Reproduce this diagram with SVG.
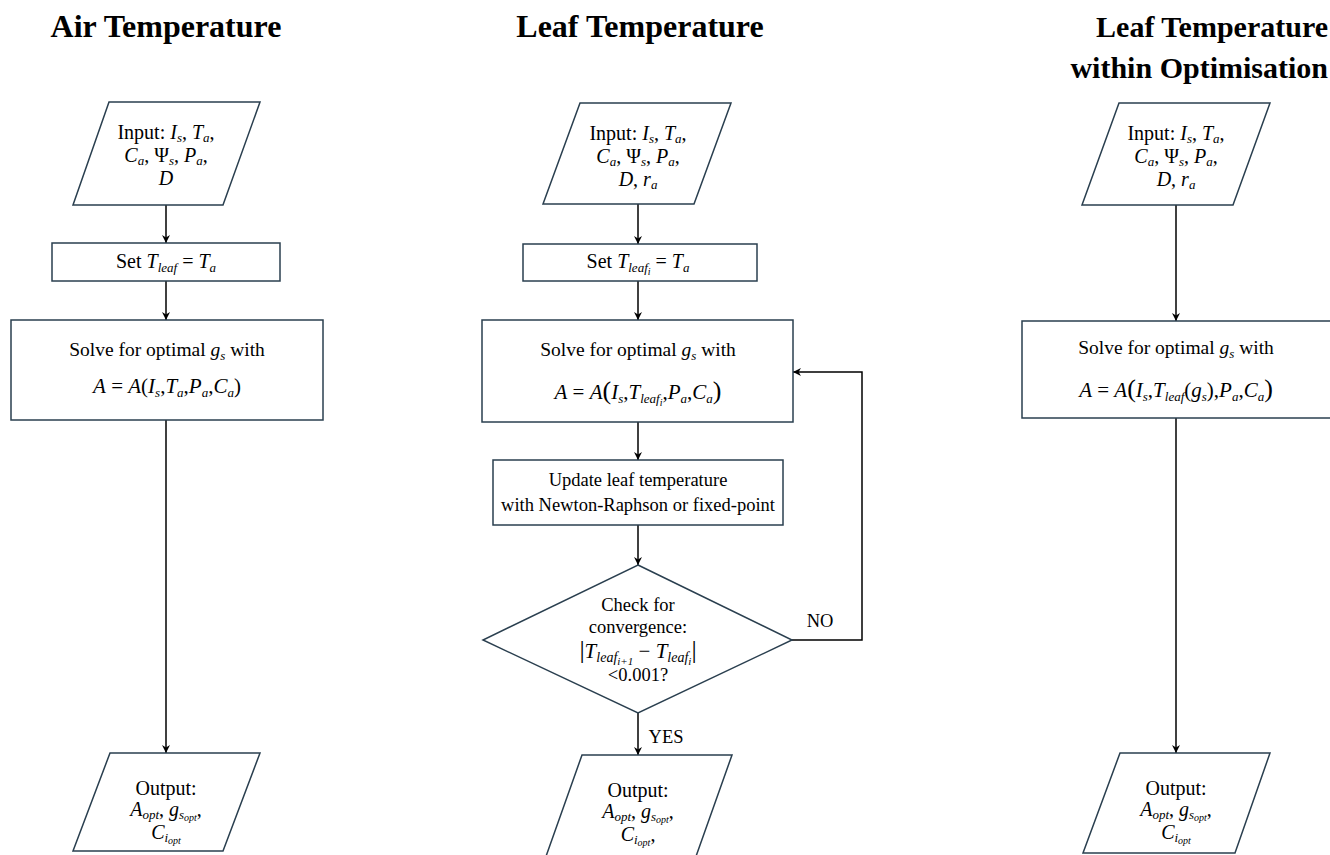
<svg xmlns="http://www.w3.org/2000/svg" width="1330" height="855" viewBox="0 0 1330 855">
<style>
text{font-family:"Liberation Serif","Times New Roman",serif;fill:#000;text-anchor:middle}
.title{font-size:32px;font-weight:bold}
.title3{font-size:30px;font-weight:bold;text-anchor:end}
.t20{font-size:20px}
.t19{font-size:19.5px}
.t21{font-size:21px}
.t18{font-size:18.5px}
.m{font-style:italic}
.s{font-size:13px;font-style:italic}
.ss{font-size:10px;font-style:italic}
.box{fill:#fff;stroke:#2a3f4f;stroke-width:1.5}
.conn{fill:none;stroke:#000;stroke-width:1.5}
.big{font-size:26px;font-style:normal}
.mx{font-size:21px}
.mxs{font-size:14px;font-style:italic}
.mxss{font-size:11px;font-style:italic}
</style>
<defs>
<marker id="arr" viewBox="0 0 10 10" refX="10" refY="5" markerWidth="8" markerHeight="8" orient="auto" markerUnits="userSpaceOnUse">
<path d="M0,0 L10,5 L0,10 L3,5 z" fill="#000"/>
</marker>
</defs>
<rect width="1330" height="855" fill="#fff"/>

<g id="titles">
<text class="title" x="166" y="37">Air Temperature</text>
<text class="title" x="640" y="37">Leaf Temperature</text>
<text class="title3" x="1328" y="37">Leaf Temperature</text>
<text class="title3" x="1328" y="78">within Optimisation</text>
</g>

<g id="connectors">
<line class="conn" x1="166" y1="205" x2="166" y2="243" marker-end="url(#arr)"/>
<line class="conn" x1="166" y1="281" x2="166" y2="320" marker-end="url(#arr)"/>
<line class="conn" x1="166" y1="420" x2="166" y2="753" marker-end="url(#arr)"/>
<line class="conn" x1="638" y1="204" x2="638" y2="244" marker-end="url(#arr)"/>
<line class="conn" x1="638" y1="281" x2="638" y2="320" marker-end="url(#arr)"/>
<line class="conn" x1="638" y1="422" x2="638" y2="460" marker-end="url(#arr)"/>
<line class="conn" x1="638" y1="525" x2="638" y2="565" marker-end="url(#arr)"/>
<line class="conn" x1="638" y1="713" x2="638" y2="755" marker-end="url(#arr)"/>
<polyline class="conn" points="792,640 862,640 862,372 793,372" marker-end="url(#arr)"/>
<line class="conn" x1="1176" y1="205" x2="1176" y2="321" marker-end="url(#arr)"/>
<line class="conn" x1="1176" y1="418" x2="1176" y2="753" marker-end="url(#arr)"/>
<text class="t18" x="820" y="627">NO</text>
<text class="t18" x="666" y="743">YES</text>
</g>

<!-- Column 1 -->
<g id="c1-input">
<polygon class="box" points="109,102 260,102 223,205 73,205"/>
<text class="t20" x="166" y="139">Input: <tspan class="m">I</tspan><tspan class="s" dy="3">s</tspan><tspan dy="-3">, </tspan><tspan class="m">T</tspan><tspan class="s" dy="3">a</tspan><tspan dy="-3">,</tspan></text>
<text class="t20" x="166" y="162"><tspan class="m">C</tspan><tspan class="s" dy="3">a</tspan><tspan dy="-3">, Ψ</tspan><tspan class="s" dy="3">s</tspan><tspan dy="-3">, </tspan><tspan class="m">P</tspan><tspan class="s" dy="3">a</tspan><tspan dy="-3">,</tspan></text>
<text class="t20" x="166" y="185"><tspan class="m">D</tspan></text>
</g>
<g id="c1-set">
<rect class="box" x="52" y="243" width="228" height="38"/>
<text class="t20" x="166" y="268">Set <tspan class="m">T</tspan><tspan class="s" dy="4">leaf</tspan><tspan dy="-4"> = </tspan><tspan class="m">T</tspan><tspan class="s" dy="4">a</tspan></text>
</g>
<g id="c1-solve">
<rect class="box" x="11" y="320" width="312" height="100"/>
<text class="t19" x="167" y="356">Solve for optimal <tspan class="m">g</tspan><tspan class="s" dy="4">s</tspan><tspan dy="-4"> with</tspan></text>
<text class="t21" x="167" y="393"><tspan class="m">A</tspan> = <tspan class="m">A</tspan>(<tspan class="m">I</tspan><tspan class="s" dy="4">s</tspan><tspan dy="-4">,</tspan><tspan class="m">T</tspan><tspan class="s" dy="4">a</tspan><tspan dy="-4">,</tspan><tspan class="m">P</tspan><tspan class="s" dy="4">a</tspan><tspan dy="-4">,</tspan><tspan class="m">C</tspan><tspan class="s" dy="4">a</tspan><tspan dy="-4">)</tspan></text>
</g>
<g id="c1-output">
<polygon class="box" points="110,753 260,753 223,851 73,851"/>
<text class="t20" x="166" y="795">Output:</text>
<text class="t20" x="166" y="816"><tspan class="m">A</tspan><tspan class="s" dy="3">opt</tspan><tspan dy="-3">, </tspan><tspan class="m">g</tspan><tspan class="s" dy="3">s</tspan><tspan class="ss" dy="2">opt</tspan><tspan dy="-5">,</tspan></text>
<text class="t20" x="166" y="839"><tspan class="m">C</tspan><tspan class="s" dy="3">i</tspan><tspan class="ss" dy="2">opt</tspan></text>
</g>

<!-- Column 2 -->
<g id="c2-input">
<polygon class="box" points="580,103 731,103 694,204 543,204"/>
<text class="t20" x="638" y="140">Input: <tspan class="m">I</tspan><tspan class="s" dy="3">s</tspan><tspan dy="-3">, </tspan><tspan class="m">T</tspan><tspan class="s" dy="3">a</tspan><tspan dy="-3">,</tspan></text>
<text class="t20" x="638" y="163"><tspan class="m">C</tspan><tspan class="s" dy="3">a</tspan><tspan dy="-3">, Ψ</tspan><tspan class="s" dy="3">s</tspan><tspan dy="-3">, </tspan><tspan class="m">P</tspan><tspan class="s" dy="3">a</tspan><tspan dy="-3">,</tspan></text>
<text class="t20" x="638" y="186"><tspan class="m">D</tspan>, <tspan class="m">r</tspan><tspan class="s" dy="3">a</tspan></text>
</g>
<g id="c2-set">
<rect class="box" x="523" y="244" width="234" height="37"/>
<text class="t20" x="638" y="268">Set <tspan class="m">T</tspan><tspan class="s" dy="4">leaf</tspan><tspan class="ss" dy="3">i</tspan><tspan dy="-7"> = </tspan><tspan class="m">T</tspan><tspan class="s" dy="4">a</tspan></text>
</g>
<g id="c2-solve">
<rect class="box" x="482" y="320" width="311" height="102"/>
<text class="t19" x="638" y="356">Solve for optimal <tspan class="m">g</tspan><tspan class="s" dy="4">s</tspan><tspan dy="-4"> with</tspan></text>
<text class="t21" x="638" y="399"><tspan class="m">A</tspan> = <tspan class="m">A</tspan><tspan class="big">(</tspan><tspan class="m">I</tspan><tspan class="s" dy="4">s</tspan><tspan dy="-4">,</tspan><tspan class="m">T</tspan><tspan class="s" dy="4">leaf</tspan><tspan class="ss" dy="3">i</tspan><tspan dy="-7">,</tspan><tspan class="m">P</tspan><tspan class="s" dy="4">a</tspan><tspan dy="-4">,</tspan><tspan class="m">C</tspan><tspan class="s" dy="4">a</tspan><tspan class="big" dy="-4">)</tspan></text>
</g>
<g id="c2-update">
<rect class="box" x="493" y="460" width="290" height="65"/>
<text class="t18" x="638" y="486">Update leaf temperature</text>
<text class="t18" x="638" y="511">with Newton-Raphson or fixed-point</text>
</g>
<g id="c2-check">
<polygon class="box" points="638,565 792,640 638,713 483,640"/>
<text class="t18" x="638" y="611">Check for</text>
<text class="t18" x="638" y="633">convergence:</text>
<text class="mx" x="638" y="658"><tspan class="big">|</tspan><tspan class="m">T</tspan><tspan class="mxs" dy="4">leaf</tspan><tspan class="mxss" dy="3">i+1</tspan><tspan dy="-7"> − </tspan><tspan class="m">T</tspan><tspan class="mxs" dy="4">leaf</tspan><tspan class="mxss" dy="3">i</tspan><tspan class="big" dy="-7">|</tspan></text>
<text class="t18" x="638" y="681">&lt;0.001?</text>
</g>
<g id="c2-output">
<polygon class="box" points="582,755 732,755 694,862 544,862"/>
<text class="t20" x="638" y="797">Output:</text>
<text class="t20" x="638" y="818"><tspan class="m">A</tspan><tspan class="s" dy="3">opt</tspan><tspan dy="-3">, </tspan><tspan class="m">g</tspan><tspan class="s" dy="3">s</tspan><tspan class="ss" dy="2">opt</tspan><tspan dy="-5">,</tspan></text>
<text class="t20" x="638" y="841"><tspan class="m">C</tspan><tspan class="s" dy="3">i</tspan><tspan class="ss" dy="2">opt</tspan><tspan dy="-5">,</tspan></text>
</g>

<!-- Column 3 -->
<g id="c3-input">
<polygon class="box" points="1119,103 1270,103 1233,205 1082,205"/>
<text class="t20" x="1176" y="140">Input: <tspan class="m">I</tspan><tspan class="s" dy="3">s</tspan><tspan dy="-3">, </tspan><tspan class="m">T</tspan><tspan class="s" dy="3">a</tspan><tspan dy="-3">,</tspan></text>
<text class="t20" x="1176" y="163"><tspan class="m">C</tspan><tspan class="s" dy="3">a</tspan><tspan dy="-3">, Ψ</tspan><tspan class="s" dy="3">s</tspan><tspan dy="-3">, </tspan><tspan class="m">P</tspan><tspan class="s" dy="3">a</tspan><tspan dy="-3">,</tspan></text>
<text class="t20" x="1176" y="186"><tspan class="m">D</tspan>, <tspan class="m">r</tspan><tspan class="s" dy="3">a</tspan></text>
</g>
<g id="c3-solve">
<rect class="box" x="1022" y="321" width="312" height="97"/>
<text class="t19" x="1176" y="354">Solve for optimal <tspan class="m">g</tspan><tspan class="s" dy="4">s</tspan><tspan dy="-4"> with</tspan></text>
<text class="t21" x="1176" y="397"><tspan class="m">A</tspan> = <tspan class="m">A</tspan><tspan class="big">(</tspan><tspan class="m">I</tspan><tspan class="s" dy="4">s</tspan><tspan dy="-4">,</tspan><tspan class="m">T</tspan><tspan class="s" dy="4">leaf</tspan><tspan dy="-4">(</tspan><tspan class="m">g</tspan><tspan class="s" dy="4">s</tspan><tspan dy="-4">),</tspan><tspan class="m">P</tspan><tspan class="s" dy="4">a</tspan><tspan dy="-4">,</tspan><tspan class="m">C</tspan><tspan class="s" dy="4">a</tspan><tspan class="big" dy="-4">)</tspan></text>
</g>
<g id="c3-output">
<polygon class="box" points="1120,753 1270,753 1235,853 1083,853"/>
<text class="t20" x="1176" y="795">Output:</text>
<text class="t20" x="1176" y="816"><tspan class="m">A</tspan><tspan class="s" dy="3">opt</tspan><tspan dy="-3">, </tspan><tspan class="m">g</tspan><tspan class="s" dy="3">s</tspan><tspan class="ss" dy="2">opt</tspan><tspan dy="-5">,</tspan></text>
<text class="t20" x="1176" y="839"><tspan class="m">C</tspan><tspan class="s" dy="3">i</tspan><tspan class="ss" dy="2">opt</tspan></text>
</g>
</svg>
